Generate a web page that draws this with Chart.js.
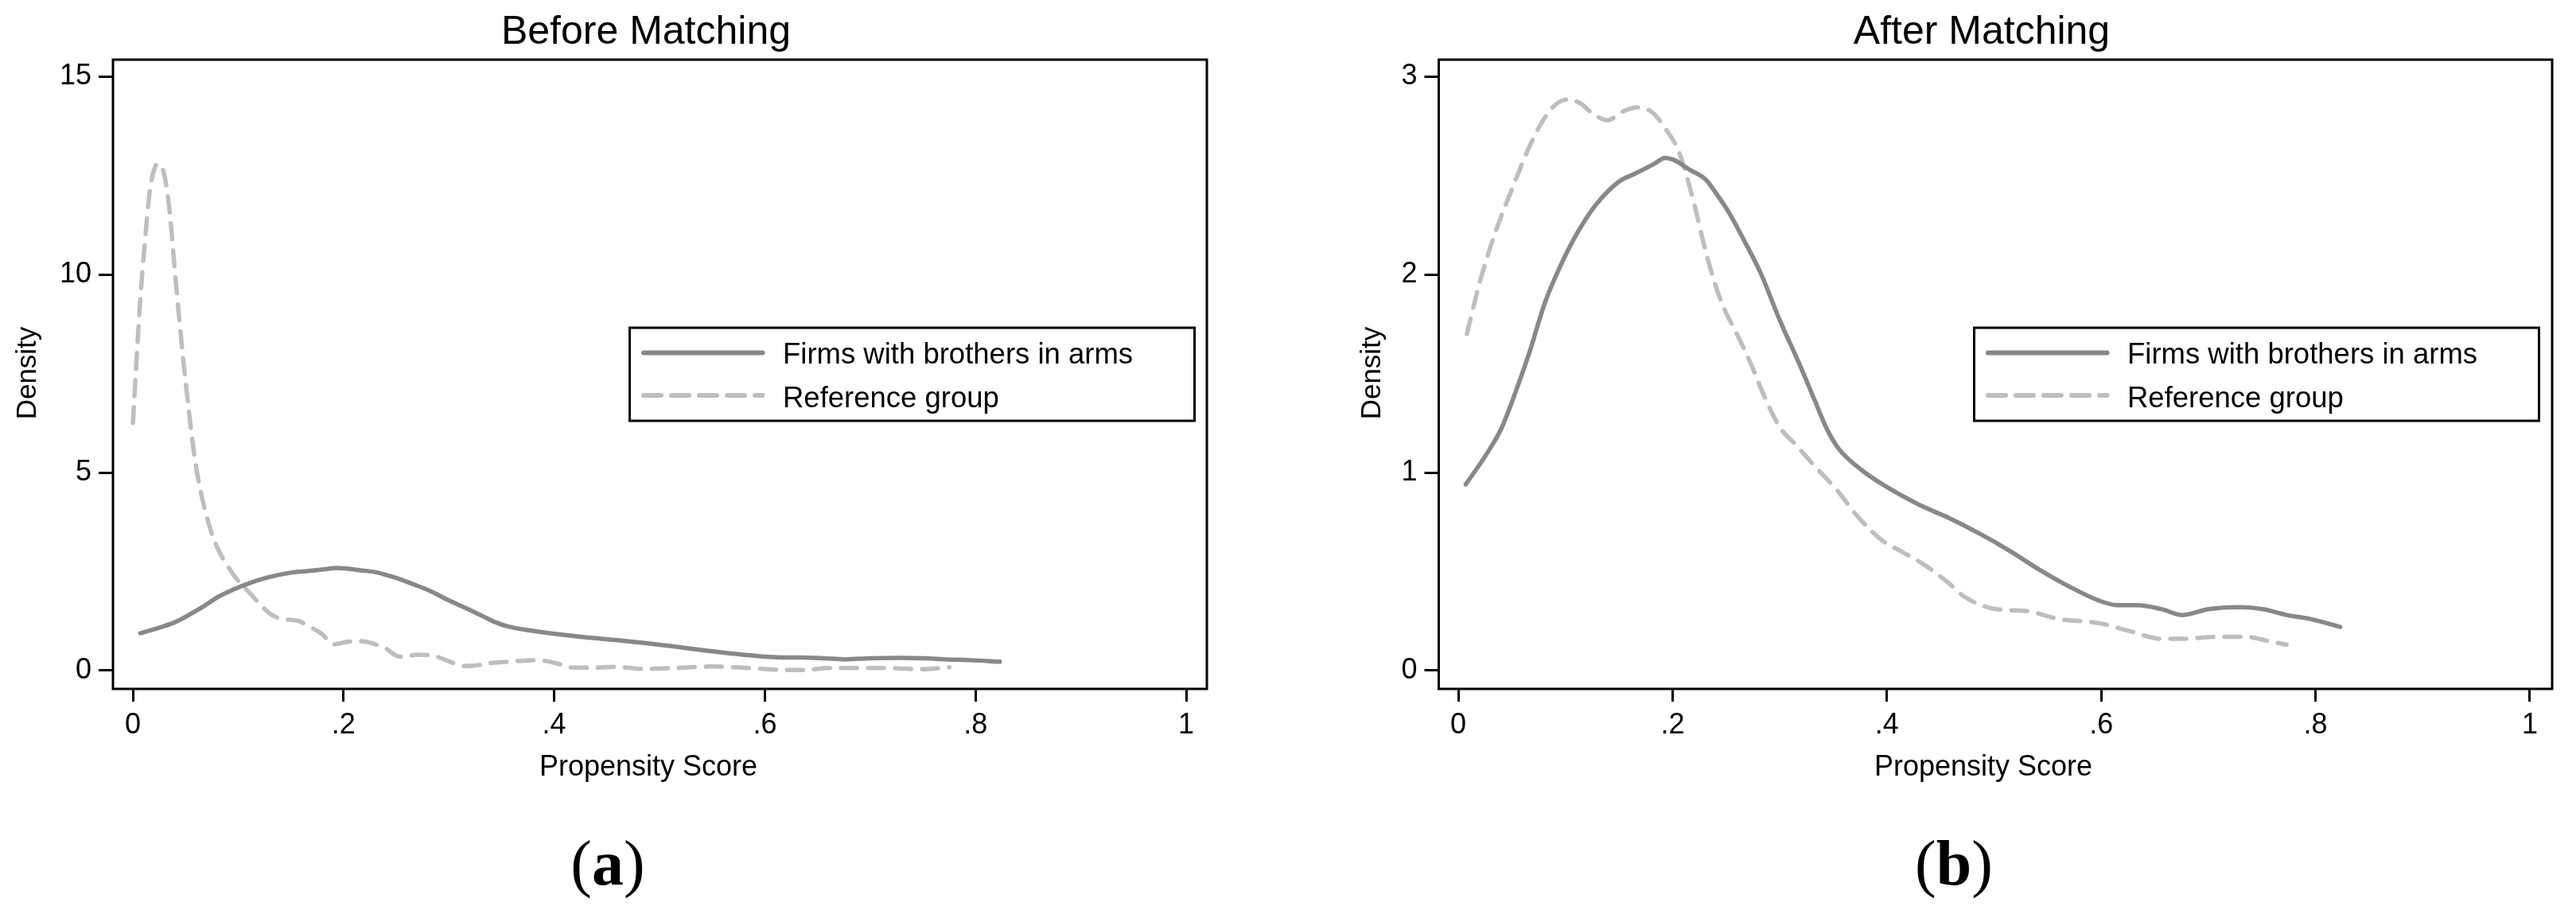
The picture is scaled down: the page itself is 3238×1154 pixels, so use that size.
<!DOCTYPE html>
<html>
<head>
<meta charset="utf-8">
<script src="https://cdn.jsdelivr.net/npm/chart.js@4.4.1/dist/chart.umd.min.js"></script>
<style>
    html, body { margin: 0; padding: 0; background: #fff; }
    body { width: 3238px; height: 1154px; position: relative; overflow: hidden; }
    .panel { position: absolute; top: 0; height: 940px; }
    #panelA { left: 0; width: 1560px; }
    #panelB { left: 1666px; width: 1572px; }
    #overlay { position: absolute; left: 0; top: 0; font-family: "Liberation Sans", Arial, sans-serif; }
</style>
</head>
<body>
<div class="panel" id="panelA"><canvas id="chartA"></canvas></div>
<div class="panel" id="panelB"><canvas id="chartB"></canvas></div>
<svg id="overlay" width="3238" height="1154" xmlns="http://www.w3.org/2000/svg"></svg>

<script>
// kernel density curves: [propensity score, density]
const treatedCurve = [
    [0.007, 0.94], [0.026, 1.09], [0.040, 1.22], [0.051, 1.37], [0.066, 1.60],
    [0.081, 1.86], [0.095, 2.04], [0.110, 2.20], [0.128, 2.35], [0.150, 2.47],
    [0.165, 2.51], [0.183, 2.56], [0.193, 2.59], [0.201, 2.58], [0.216, 2.53],
    [0.231, 2.48], [0.242, 2.40], [0.253, 2.31], [0.267, 2.17], [0.282, 2.01],
    [0.300, 1.77], [0.319, 1.54], [0.333, 1.36], [0.344, 1.22], [0.355, 1.12],
    [0.377, 1.01], [0.399, 0.93], [0.429, 0.84], [0.458, 0.77], [0.487, 0.69],
    [0.516, 0.60], [0.542, 0.51], [0.568, 0.43], [0.597, 0.355], [0.615, 0.33],
    [0.634, 0.33], [0.656, 0.31], [0.676, 0.28], [0.700, 0.31], [0.729, 0.32],
    [0.751, 0.31], [0.773, 0.28], [0.795, 0.26], [0.823, 0.22]
];

const controlBefore = [
    [0.000, 6.25], [0.007, 9.36], [0.011, 10.7], [0.016, 12.1], [0.021, 12.71],
    [0.025, 12.8], [0.030, 12.5], [0.035, 11.57], [0.039, 10.36], [0.044, 8.89],
    [0.048, 7.8], [0.053, 6.6], [0.058, 5.5], [0.063, 4.7], [0.069, 4.0],
    [0.075, 3.45], [0.082, 3.0], [0.088, 2.72], [0.098, 2.33], [0.112, 1.93],
    [0.122, 1.63], [0.132, 1.40], [0.142, 1.30], [0.156, 1.26], [0.169, 1.09],
    [0.179, 0.93], [0.191, 0.66], [0.203, 0.72], [0.217, 0.74], [0.230, 0.66],
    [0.240, 0.56], [0.249, 0.39], [0.257, 0.34], [0.270, 0.40], [0.287, 0.36],
    [0.301, 0.22], [0.314, 0.11], [0.324, 0.12], [0.341, 0.19], [0.358, 0.22],
    [0.381, 0.26], [0.392, 0.24], [0.405, 0.16], [0.419, 0.07], [0.436, 0.07],
    [0.459, 0.09], [0.483, 0.04], [0.513, 0.06], [0.549, 0.10], [0.586, 0.06],
    [0.623, 0.01], [0.638, 0.01], [0.660, 0.06], [0.690, 0.06], [0.720, 0.06],
    [0.746, 0.03], [0.775, 0.08]
];

const controlAfter = [
    [0.008, 1.70], [0.020, 1.96], [0.035, 2.22], [0.050, 2.43], [0.065, 2.63],
    [0.077, 2.76], [0.089, 2.85], [0.102, 2.885], [0.114, 2.865], [0.124, 2.82],
    [0.139, 2.78], [0.154, 2.825], [0.167, 2.845], [0.181, 2.82], [0.193, 2.74],
    [0.206, 2.62], [0.213, 2.50], [0.221, 2.34], [0.228, 2.18], [0.238, 1.98],
    [0.248, 1.83], [0.260, 1.70], [0.273, 1.55], [0.286, 1.38], [0.300, 1.23],
    [0.315, 1.14], [0.333, 1.03], [0.352, 0.92], [0.374, 0.77], [0.396, 0.655],
    [0.414, 0.60], [0.436, 0.53], [0.458, 0.44], [0.473, 0.37], [0.502, 0.31],
    [0.531, 0.30], [0.560, 0.26], [0.597, 0.24], [0.626, 0.20], [0.656, 0.16],
    [0.678, 0.16], [0.707, 0.17], [0.736, 0.17], [0.755, 0.15], [0.773, 0.13]
];

const seriesNames = ['Firms with brothers in arms', 'Reference group'];
const panelTitles = ['Before Matching', 'After Matching'];
const panelLetters = ['a', 'b'];
const xTicks = [0, 0.2, 0.4, 0.6, 0.8, 1];
const xTickLabels = ['0', '.2', '.4', '.6', '.8', '1'];
const yTicksBefore = [0, 5, 10, 15];
const yTicksAfter = [0, 1, 2, 3];

const SOLID = '#888888';
const DASHED = '#bebebe';
const FONT = '"Liberation Sans", Arial, sans-serif';

//===----------------------------------------------------------------------===//
//                       Helper Functions
//===----------------------------------------------------------------------===//

function toPoints(curve) {
    return curve.map(p => ({ x: p[0], y: p[1] }));
}

const plotBox = {
    id: 'plotBox',
    afterDraw(chart) {
        const a = chart.chartArea;
        const ctx = chart.ctx;
        ctx.save();
        ctx.strokeStyle = '#000';
        ctx.lineWidth = 3;
        ctx.strokeRect(a.left, a.top, a.right - a.left, a.bottom - a.top);
        ctx.restore();
    }
};

function makePanel(canvasId, control, yTicks, range, padRight, yAxisWidth) {
    return new Chart(document.getElementById(canvasId), {
        type: 'line',
        data: {
            datasets: [{
                label: seriesNames[0],
                data: toPoints(treatedCurve),
                borderColor: SOLID,
                borderWidth: 5.5,
                borderCapStyle: 'round',
                borderJoinStyle: 'round',
                pointRadius: 0,
                cubicInterpolationMode: 'monotone'
            }, {
                label: seriesNames[1],
                data: toPoints(control),
                borderColor: DASHED,
                borderWidth: 5.5,
                borderDash: [20, 14],
                borderCapStyle: 'round',
                borderJoinStyle: 'round',
                pointRadius: 0,
                cubicInterpolationMode: 'monotone'
            }]
        },
        options: {
            responsive: true,
            maintainAspectRatio: false,
            animation: false,
            devicePixelRatio: 1,
            layout: { padding: { top: 75, right: padRight, left: 0, bottom: 0 } },
            plugins: { legend: { display: false }, tooltip: { enabled: false } },
            scales: {
                x: {
                    type: 'linear',
                    min: range[0],
                    max: range[1],
                    afterBuildTicks: scale => { scale.ticks = xTicks.map(v => ({ value: v })); },
                    afterFit: scale => { scale.height = 74; },
                    ticks: {
                        autoSkip: false,
                        maxRotation: 0,
                        padding: 8,
                        color: '#000',
                        font: { family: FONT, size: 36 },
                        callback: (v, i) => xTickLabels[i]
                    },
                    grid: { drawOnChartArea: false, color: '#000', lineWidth: 3, tickLength: 16 },
                    border: { display: false }
                },
                y: {
                    type: 'linear',
                    min: range[2],
                    max: range[3],
                    afterBuildTicks: scale => { scale.ticks = yTicks.map(v => ({ value: v })); },
                    afterFit: scale => { scale.width = yAxisWidth; },
                    ticks: {
                        autoSkip: false,
                        padding: 9,
                        color: '#000',
                        font: { family: FONT, size: 36 },
                        callback: v => String(v)
                    },
                    grid: { drawOnChartArea: false, color: '#000', lineWidth: 3, tickLength: 18 },
                    border: { display: false }
                }
            }
        },
        plugins: [plotBox]
    });
}

// text, legends and panel letters
function svgEl(tag, attrs, text) {
    const el = document.createElementNS('http://www.w3.org/2000/svg', tag);
    for (const k in attrs) el.setAttribute(k, attrs[k]);
    if (text) el.textContent = text;
    return el;
}

function drawDecor(svg, dx, title, letter, titleX, axisX, densityX, letterX) {
    svg.appendChild(svgEl('text', { x: titleX, y: 55, 'text-anchor': 'middle', 'font-size': 50 }, title));
    svg.appendChild(svgEl('text', { x: axisX, y: 975, 'text-anchor': 'middle', 'font-size': 36 }, 'Propensity Score'));
    svg.appendChild(svgEl('text', { transform: `translate(${densityX},469) rotate(-90)`, 'text-anchor': 'middle', 'font-size': 35 }, 'Density'));

    svg.appendChild(svgEl('rect', { x: 791.5 + dx, y: 412, width: 710, height: 117, fill: '#fff', stroke: '#000', 'stroke-width': 3 }));
    svg.appendChild(svgEl('line', { x1: 809 + dx, x2: 958.5 + dx, y1: 443.5, y2: 443.5, stroke: SOLID, 'stroke-width': 6, 'stroke-linecap': 'round' }));
    svg.appendChild(svgEl('line', { x1: 809 + dx, x2: 958.5 + dx, y1: 497, y2: 497, stroke: DASHED, 'stroke-width': 6, 'stroke-linecap': 'round', 'stroke-dasharray': '22 13' }));
    svg.appendChild(svgEl('text', { x: 984 + dx, y: 457, 'font-size': 36.5 }, seriesNames[0]));
    svg.appendChild(svgEl('text', { x: 984 + dx, y: 512, 'font-size': 36.5 }, seriesNames[1]));

    const lab = svgEl('text', { x: letterX, y: 1112, 'text-anchor': 'middle', 'font-size': 80, 'font-family': '"Liberation Serif", "Times New Roman", serif' });
    lab.appendChild(svgEl('tspan', {}, '('));
    lab.appendChild(svgEl('tspan', { 'font-weight': 'bold' }, letter));
    lab.appendChild(svgEl('tspan', {}, ')'));
    svg.appendChild(lab);
}

//===----------------------------------------------------------------------===//

makePanel('chartA', controlBefore, yTicksBefore, [-0.0189, 1.0196, -0.466, 15.43], 43, 142);
makePanel('chartB', controlAfter, yTicksAfter, [-0.0182, 1.0208, -0.0932, 3.086], 30, 142.5);

const overlay = document.getElementById('overlay');
drawDecor(overlay, 0, panelTitles[0], panelLetters[0], 812, 815, 45, 764);
drawDecor(overlay, 1690, panelTitles[1], panelLetters[1], 2491, 2493, 1735, 2456);
</script>
</body>
</html>
